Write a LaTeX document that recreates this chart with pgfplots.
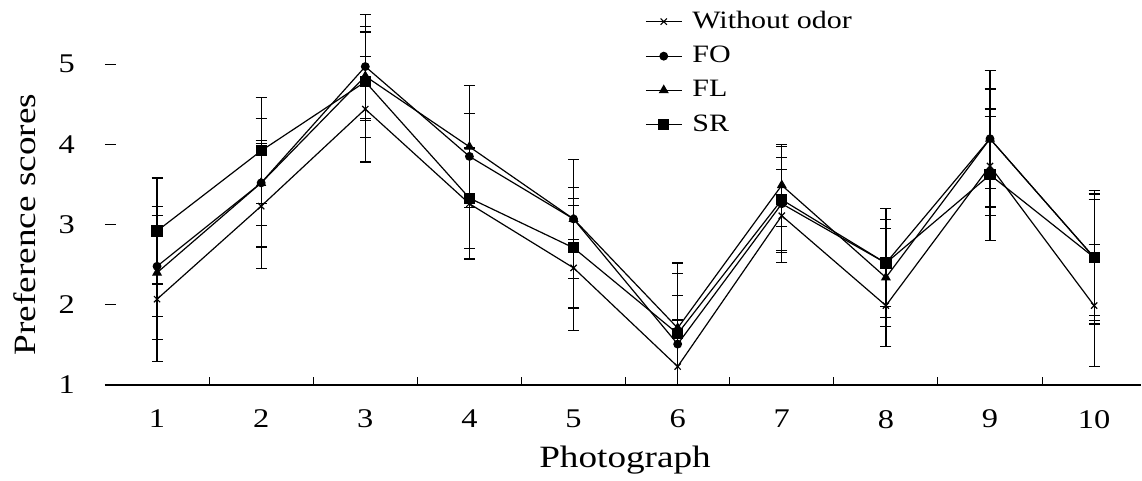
\documentclass[border=0pt]{standalone}
\usepackage{fontspec}
\setmainfont{Liberation Serif}[FakeStretch=1.2]
\usepackage{pgfplots}
\pgfplotsset{compat=1.18}
\usepackage{pgfplotstable}

% x = photograph, y = mean score, e = error
\pgfplotstableread{
x y e
1 2.07 0.78
2 3.23 0.78
3 4.44 0.66
4 3.26 0.69
5 2.46 0.78
6 1.23 0.58
7 3.11 0.58
8 1.99 0.51
9 3.73 0.62
10 1.99 0.76
}\wo
\pgfplotstableread{
x y e
1 2.48 0.63
2 3.52 0.53
3 4.97 0.65
4 3.85 0.53
5 3.07 0.26
6 1.51 0.61
7 3.26 0.58
8 2.52 0.54
9 4.07 0.85
10 2.59 0.79
}\fo
\pgfplotstableread{
x y e
1 2.40 0.83
2 3.52 0.80
3 4.85 0.55
4 3.97 0.76
5 3.07 0.74
6 1.71 0.81
7 3.49 0.51
8 2.34 0.61
9 4.07 0.62
10 2.59 0.72
}\fl
\pgfplotstableread{
x y e
1 2.92 0.66
2 3.92 0.66
3 4.78 0.69
4 3.33 0.63
5 2.71 0.75
6 1.64 0.75
7 3.31 0.66
8 2.52 0.68
9 3.62 0.82
10 2.59 0.83
}\sr

\begin{document}
\begin{tikzpicture}
\begin{axis}[
  scale only axis, width=518pt, height=190.5pt,
  xmin=0.5, xmax=10.45, ymin=1, ymax=5.75,
  axis x line*=bottom, axis y line*=left,
  y axis line style={draw=none},
  x axis line style={line width=0.6pt},
  xtick={1,...,10}, ytick={1,...,5},
  minor xtick={1.5,2.5,...,9.5},
  major x tick style={draw=none},
  minor tick length=4pt, major tick length=5.5pt,
  tick align=inside, tick style={black, line width=0.5pt},
  /pgf/number format/assume math mode=true,
  tick label style={font=\fontsize{13.5}{15}\selectfont},
  xticklabel style={yshift=-9pt},
  yticklabel style={xshift=-11.5pt},
  xlabel={Photograph}, ylabel={Preference scores},
  label style={font=\fontsize{15.5}{18}\selectfont},
  xlabel style={at={(axis description cs:0.502,-0.197)}, anchor=center},
  ylabel style={at={(axis description cs:-0.077,0.421)}, anchor=center, rotate=0},
  legend style={at={(0.521,0.992)}, anchor=north west, draw=none, fill=none,
    font=\fontsize{12.5}{14}\selectfont, row sep=3.3pt, inner sep=0pt,
    /tikz/every odd column/.append style={column sep=3pt}},
  legend cell align=left,
  legend image code/.code={\draw[mark repeat=2,mark phase=2] plot coordinates {(0pt,0pt)(9pt,0pt)(18pt,0pt)};},
  every axis plot/.append style={black, line width=0.6pt},
  error bars/y dir=both, error bars/y explicit,
  error bars/error bar style={line width=0.6pt},
  error bars/error mark options={rotate=90, mark size=2.75pt, line width=0.6pt},
]
\addplot[mark=x, mark size=2.2pt] table[x=x, y=y, y error=e] {\wo};
\addplot[mark=*, mark size=1.9pt] table[x=x, y=y, y error=e] {\fo};
\addplot[mark=triangle*, mark size=2.3pt] table[x=x, y=y, y error=e] {\fl};
\addplot[mark=square*, mark size=2.5pt] table[x=x, y=y, y error=e] {\sr};
\legend{Without odor, FO, FL, SR}
\end{axis}
\pgfresetboundingbox
\path[use as bounding box] (-52.5pt,-48pt) rectangle (518.5pt,192.5pt);
\end{tikzpicture}
\end{document}
